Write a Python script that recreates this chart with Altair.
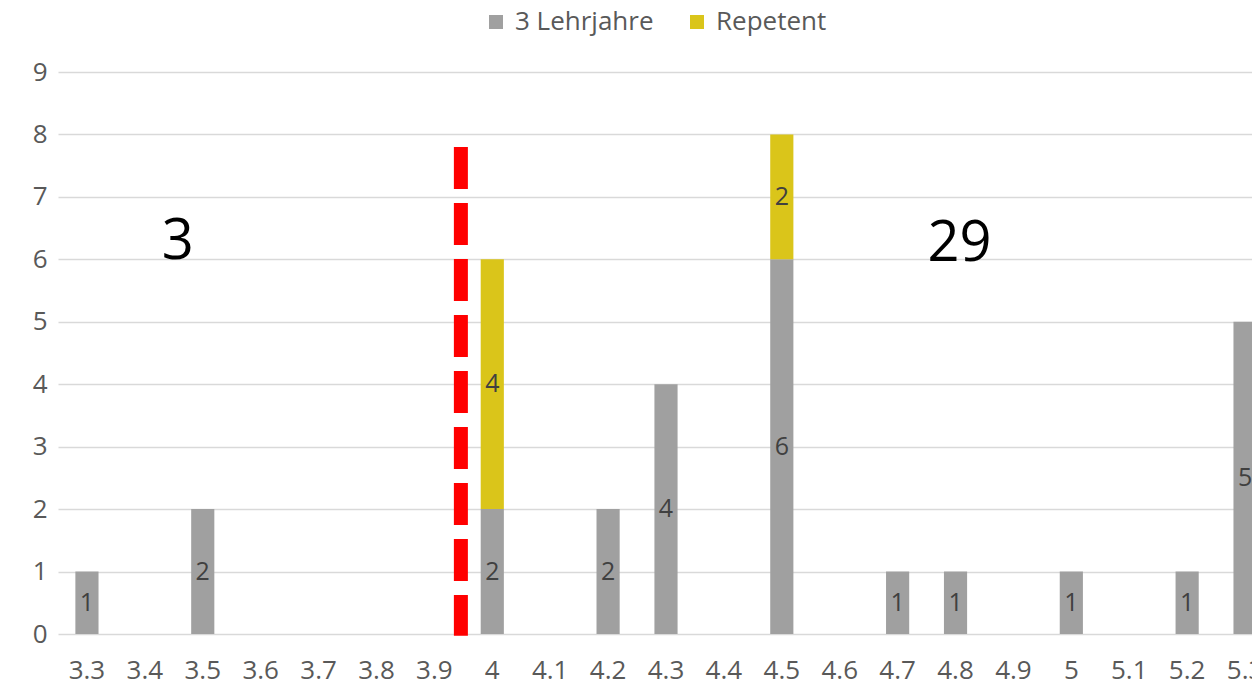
import altair as alt
import pandas as pd

categories = ["3.3", "3.4", "3.5", "3.6", "3.7", "3.8", "3.9", "4", "4.1", "4.2", "4.3",
              "4.4", "4.5", "4.6", "4.7", "4.8", "4.9", "5", "5.1", "5.2", "5.3"]
lehrjahre = [1, 0, 2, 0, 0, 0, 0, 2, 0, 2, 4, 0, 6, 0, 1, 1, 0, 1, 0, 1, 5]
repetent = [0, 0, 0, 0, 0, 0, 0, 4, 0, 0, 0, 0, 2, 0, 0, 0, 0, 0, 0, 0, 0]
series_names = ["3 Lehrjahre", "Repetent"]
series_colors = ["#A0A0A0", "#DAC51A"]
y_ticks = [0, 1, 2, 3, 4, 5, 6, 7, 8, 9]
annot_text = ["3", "29"]
annot_cat = ["3.4", "4.8"]
annot_y = [6.28, 6.25]
annot_dx = [33, 4]
cutoff_cat = ["3.9"]
cutoff_top = [7.8]
cutoff_bottom = [-0.03]

FONT = "Open Sans"

rows = []
for i, c in enumerate(categories):
    base = 0
    for name, vals in zip(series_names, [lehrjahre, repetent]):
        v = vals[i]
        if v > 0:
            rows.append({"cat": c, "series": name, "value": v,
                         "y0": base, "y1": base + v, "mid": base + v / 2})
            base += v
bars_df = pd.DataFrame(rows)

x_enc = alt.X("cat:N", sort=categories,
              scale=alt.Scale(domain=categories, paddingInner=0.6, paddingOuter=0.3),
              axis=alt.Axis(title=None, labelAngle=0, domain=False, ticks=False,
                            labelPadding=23, labelFontSize=26, labelColor="#595959",
                            labelFont=FONT, grid=False))
y_scale = alt.Scale(domain=[0, 9], nice=False)

bars = alt.Chart(bars_df).mark_bar().encode(
    x=x_enc,
    y=alt.Y("y0:Q", scale=y_scale,
            axis=alt.Axis(title=None, values=y_ticks, format="d", domain=False, ticks=False,
                          labelPadding=11, labelFontSize=26, labelColor="#595959",
                          labelFont=FONT, gridColor="#D9D9D9", gridWidth=1.5)),
    y2="y1:Q",
    color=alt.Color("series:N",
                    scale=alt.Scale(domain=series_names, range=series_colors),
                    legend=alt.Legend(title=None, orient="none", direction="horizontal",
                                      legendX=425, legendY=-63, symbolType="square",
                                      symbolSize=196, symbolStrokeWidth=0,
                                      labelFontSize=26, labelColor="#595959",
                                      labelFont=FONT, labelOffset=6, labelLimit=400,
                                      columnPadding=30)),
)

labels = alt.Chart(bars_df).mark_text(fontSize=25, color="#404040", font=FONT,
                                      baseline="middle").encode(
    x=alt.X("cat:N", sort=categories),
    y=alt.Y("mid:Q"),
    text=alt.Text("value:Q"),
)

annot_df = pd.DataFrame({"cat": annot_cat, "y": annot_y, "text": annot_text})
annots = alt.layer(*[
    alt.Chart(annot_df.iloc[[k]]).mark_text(fontSize=56, color="#000000", font=FONT,
                                            baseline="middle", dx=int(annot_dx[k])).encode(
        x=alt.X("cat:N", sort=categories),
        y=alt.Y("y:Q"),
        text="text:N",
    ) for k in range(len(annot_text))
])

cut_df = pd.DataFrame({"cat": cutoff_cat, "top": cutoff_top, "bottom": cutoff_bottom})
cutoff = alt.Chart(cut_df).mark_rule(color="#FF0000", strokeWidth=14,
                                     strokeDash=[42, 14], xOffset=26.5).encode(
    x=alt.X("cat:N", sort=categories),
    y=alt.Y("top:Q"),
    y2="bottom:Q",
)

chart = alt.layer(bars, labels, annots, cutoff).properties(
    width=1216, height=562,
    autosize=alt.AutoSizeParams(type="none"),
    padding={"left": 50, "top": 64, "right": -22, "bottom": 47},
).configure_view(stroke=None)

chart.save("out.html", embed_options={"renderer": "svg", "actions": False})
